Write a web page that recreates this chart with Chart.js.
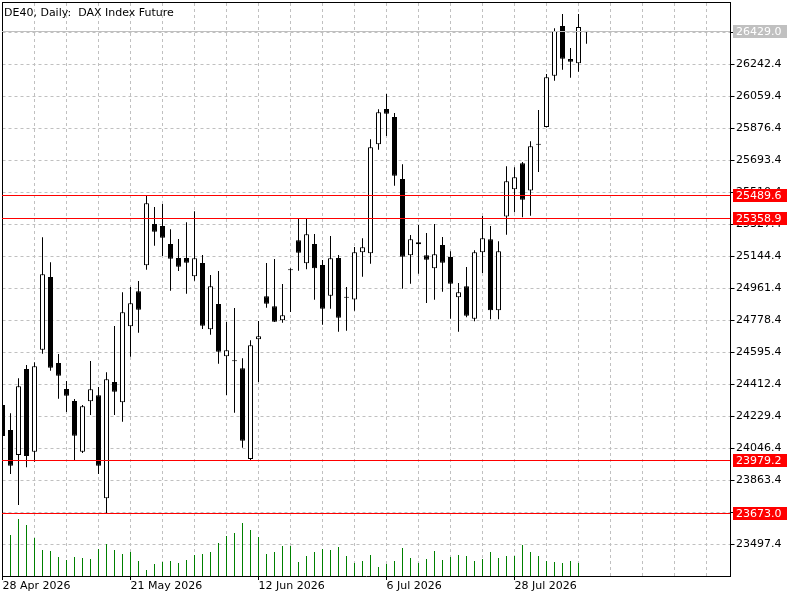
<!DOCTYPE html>
<html>
<head>
<meta charset="utf-8">
<script src="https://cdn.jsdelivr.net/npm/chart.js@4.4.1/dist/chart.umd.min.js"></script>
<style>
  html, body { margin: 0; padding: 0; background: #fff; }
  canvas { display: block; }
</style>
</head>
<body>
<canvas id="dax" width="800" height="600"></canvas>
<script>
const dates = [
    '28 Apr 2026', '29 Apr 2026', '30 Apr 2026', '4 May 2026', '5 May 2026', '6 May 2026', '7 May 2026', '8 May 2026',
    '11 May 2026', '12 May 2026', '13 May 2026', '14 May 2026', '15 May 2026', '18 May 2026', '19 May 2026', '20 May 2026',
    '21 May 2026', '22 May 2026', '25 May 2026', '26 May 2026', '27 May 2026', '28 May 2026', '29 May 2026', '1 Jun 2026',
    '2 Jun 2026', '3 Jun 2026', '4 Jun 2026', '5 Jun 2026', '8 Jun 2026', '9 Jun 2026', '10 Jun 2026', '11 Jun 2026',
    '12 Jun 2026', '15 Jun 2026', '16 Jun 2026', '17 Jun 2026', '18 Jun 2026', '19 Jun 2026', '22 Jun 2026', '23 Jun 2026',
    '24 Jun 2026', '25 Jun 2026', '26 Jun 2026', '29 Jun 2026', '30 Jun 2026', '1 Jul 2026', '2 Jul 2026', '3 Jul 2026',
    '6 Jul 2026', '7 Jul 2026', '8 Jul 2026', '9 Jul 2026', '10 Jul 2026', '13 Jul 2026', '14 Jul 2026', '15 Jul 2026',
    '16 Jul 2026', '17 Jul 2026', '20 Jul 2026', '21 Jul 2026', '22 Jul 2026', '23 Jul 2026', '24 Jul 2026', '27 Jul 2026',
    '28 Jul 2026', '29 Jul 2026', '30 Jul 2026', '31 Jul 2026', '3 Aug 2026', '4 Aug 2026', '5 Aug 2026', '6 Aug 2026',
    '7 Aug 2026', '10 Aug 2026'
];
const emptySlots = 18; // free space right of the last bar

const opens = [
    24294.0, 24151.0, 24008.1, 24499.9, 24026.9, 24610.3, 25026.0, 24534.2, 24385.5, 24316.9,
    24026.9, 24315.2, 24349.5, 23760.5, 24425.5, 24309.5, 24744.1, 24944.2, 25092.9, 25329.1,
    25317.7, 25214.7, 25134.7, 25134.7, 25030.0, 25106.1, 24726.9, 24871.6, 24572.5, 24544.9,
    24503.9, 23985.0, 24669.7, 24915.6, 24858.5, 24778.4, 25065.3, 25235.9, 25104.4, 25214.7,
    25094.6, 24919.1, 25134.7, 24908.6, 24897.3, 25167.3, 25161.5, 25784.9, 25986.8, 25941.0,
    25586.4, 25150.1, 25213.0, 25150.1, 25075.8, 25209.0, 25140.4, 24909.9, 24972.8, 24787.5,
    25167.3, 25241.6, 24835.6, 25372.0, 25527.5, 25676.8, 25520.7, 25783.0, 25883.8, 26177.2,
    26461.4, 26272.7, 26248.1, 26431.0
];
const highs = [
    24305.4, 24246.6, 24446.7, 24522.8, 24538.2, 25253.0, 25110.1, 24585.7, 24431.3, 24328.3,
    24294.0, 24545.6, 24396.9, 24481.0, 24745.8, 24938.5, 24968.8, 25003.1, 25490.0, 25426.3,
    25443.5, 25298.8, 25243.3, 25338.8, 25401.7, 25151.8, 25037.4, 25060.3, 24768.7, 24848.7,
    24561.1, 24664.0, 24774.4, 25106.1, 25128.9, 24986.0, 25075.8, 25358.9, 25358.9, 25271.9,
    25123.2, 25260.5, 25151.8, 24968.8, 25197.6, 25247.9, 25813.5, 25985.0, 26072.5, 25963.9,
    25670.5, 25266.2, 25323.4, 25277.6, 25329.1, 25254.8, 25173.0, 24991.7, 25083.2, 25178.7,
    25374.9, 25317.7, 25230.2, 25659.1, 25653.4, 25683.7, 25802.6, 25981.0, 26186.9, 26448.3,
    26530.0, 26335.6, 26530.0, 26432.0
];
const lows = [
    24093.9, 23899.4, 23722.1, 23937.7, 23969.8, 24587.4, 24490.2, 24330.0, 24254.0, 23979.5,
    24020.0, 24236.8, 23899.4, 23673.0, 24236.8, 24198.5, 24570.2, 24707.5, 25067.8, 25205.0,
    25146.1, 24947.7, 25060.3, 24930.5, 25004.9, 24728.6, 24696.0, 24530.2, 24351.2, 24250.0,
    24049.8, 23979.2, 24425.5, 24850.4, 24768.0, 24764.7, 24825.9, 25062.0, 25070.0, 24896.2,
    24753.2, 24844.7, 24713.2, 24718.9, 24833.3, 25027.7, 25102.1, 25754.0, 25832.4, 25548.1,
    24959.1, 24987.7, 25044.9, 24877.3, 24896.2, 24941.9, 24787.5, 24713.2, 24795.5, 24772.7,
    25048.9, 24784.1, 24784.1, 25267.9, 25396.0, 25367.4, 25376.0, 25626.5, 25881.0, 26148.6,
    26211.5, 26165.8, 26200.1, 26360.2
];
const closes = [
    24116.7, 23946.9, 24401.0, 24002.4, 24515.3, 25041.5, 24507.3, 24461.6, 24347.2, 24118.4,
    24286.6, 24383.8, 23946.9, 24441.0, 24370.1, 24824.1, 24875.6, 24839.0, 25447.5, 25285.1,
    25250.8, 25130.7, 25084.9, 25107.8, 25133.0, 24747.5, 24972.8, 24598.8, 24606.8, 24543.9,
    24089.9, 24635.4, 24686.9, 24873.3, 24770.4, 24807.0, 25064.3, 25165.0, 25270.2, 25075.8,
    24844.7, 25133.0, 24793.3, 24907.6, 25167.3, 25195.9, 25767.7, 25967.9, 25959.9, 25605.3,
    25142.1, 25241.6, 25224.4, 25124.9, 25155.8, 25107.8, 24987.7, 24938.5, 24804.7, 25167.3,
    25247.3, 24835.6, 25173.0, 25573.3, 25596.2, 25468.1, 25773.4, 25782.0, 26168.0, 26432.8,
    26274.4, 26257.3, 26455.7, 26429.0
];
const volumes = [
    28000, 41000, 57000, 51000, 38000, 26000, 25000, 19000, 16000, 19000,
    18000, 17000, 27000, 32000, 26000, 22000, 24000, 15000, 6000, 12000,
    14000, 15000, 13000, 16000, 21000, 22000, 24000, 33000, 40000, 43000,
    53000, 46000, 39000, 22000, 24000, 30000, 30000, 14000, 20000, 24000,
    27000, 26000, 29000, 20000, 13000, 15000, 21000, 9000, 12000, 15000,
    28000, 18000, 13000, 17000, 25000, 16000, 19000, 21000, 20000, 15000,
    17000, 24000, 18000, 20000, 20000, 31000, 24000, 20000, 15000, 14000,
    13000, 15000, 13000, 0
];

const yTicks = [
    23497.4, 23680.4, 23863.4, 24046.4, 24229.4, 24412.4, 24595.4, 24778.4, 24961.4,
    25144.4, 25327.4, 25510.4, 25693.4, 25876.4, 26059.4, 26242.4, 26425.4
];
const xTickIdx = [0, 16, 32, 48, 64];
const redLevels = [25489.6, 25358.9, 23979.2, 23673.0];
const lastPrice = 26429.0;
const title = 'DE40, Daily:  DAX Index Future';

const FONT = 'DejaVu Sans';
const labels = dates.concat(Array(emptySlots).fill(''));

// keep the plot area fixed: no extra room for overhanging tick labels
const noOverhang = s => {
    s.paddingTop = 0;
    s.paddingBottom = 0;
    s.paddingLeft = 0;
    s.paddingRight = 0;
};

const overlay = {
    id: 'overlay',
    afterDraw(chart) {
        const ctx = chart.ctx;
        const area = chart.chartArea;
        const y = chart.scales.y;
        const left = Math.floor(area.left);
        const right = Math.floor(area.right);
        ctx.save();
        // left and top frame
        ctx.fillStyle = '#000';
        ctx.fillRect(left, Math.floor(area.top) - 1, right - left + 1, 1);
        ctx.fillRect(left, Math.floor(area.top) - 1, 1, Math.ceil(area.bottom - area.top) + 1);

        const level = (value, color) => {
            const py = Math.floor(y.getPixelForValue(value));
            ctx.fillStyle = color;
            ctx.fillRect(left, py, right - left, 1);
            ctx.fillRect(733, py - 6, 54, 13);
            ctx.fillStyle = '#fff';
            ctx.font = '11px "' + FONT + '"';
            ctx.textBaseline = 'middle';
            ctx.textAlign = 'left';
            ctx.fillText(value.toFixed(1), 736, py + 1);
        };
        level(lastPrice, '#c0c0c0');
        redLevels.forEach(v => level(v, '#ff0000'));

        ctx.fillStyle = '#000';
        ctx.font = '11px "' + FONT + '"';
        ctx.textBaseline = 'alphabetic';
        ctx.textAlign = 'left';
        ctx.fillText(title, 4, 16);
        ctx.restore();
    }
};

const ctx = document.getElementById('dax').getContext('2d');

new Chart(ctx, {
    type: 'bar',
    data: {
        labels: labels,
        datasets: [
            {
                label: 'Body',
                data: opens.map((o, i) => [o, closes[i]]),
                backgroundColor: opens.map((o, i) => closes[i] >= o ? '#ffffff' : '#000000'),
                borderColor: '#000',
                borderWidth: 1,
                borderSkipped: false,
                barThickness: 5,
                minBarLength: 1,
                inflateAmount: 0,
                grouped: false,
                yAxisID: 'y',
                order: 0
            },
            {
                label: 'Wick',
                data: lows.map((l, i) => [l, highs[i]]),
                backgroundColor: '#000',
                barThickness: 1,
                inflateAmount: 0,
                grouped: false,
                yAxisID: 'y',
                order: 1
            },
            {
                label: 'Volume',
                data: volumes,
                backgroundColor: 'rgb(0, 128, 0)',
                barThickness: 1,
                inflateAmount: 0,
                grouped: false,
                yAxisID: 'v',
                order: 2
            }
        ]
    },
    options: {
        responsive: false,
        animation: false,
        devicePixelRatio: 1,
        layout: { padding: { left: 2.5, top: 3, right: 0, bottom: 0 } },
        plugins: {
            legend: { display: false },
            tooltip: { enabled: false }
        },
        scales: {
            x: {
                type: 'category',
                offset: false,
                afterFit: s => { s.height = 24; noOverhang(s); },
                grid: {
                    offset: false,
                    color: c => (c.index > 0 && c.index % 4 === 0) ? '#c0c0c0' : 'rgba(0,0,0,0)',
                    tickColor: c => xTickIdx.includes(c.index) ? '#000' : 'rgba(0,0,0,0)',
                    tickLength: 4
                },
                border: { display: true, color: '#000', width: 1, dash: [3, 3] },
                ticks: {
                    autoSkip: false,
                    maxRotation: 0,
                    minRotation: 0,
                    align: 'start',
                    padding: 0,
                    color: '#000',
                    font: { family: FONT, size: 11 },
                    callback: (val, idx) => xTickIdx.includes(idx) ? dates[idx] : ''
                }
            },
            y: {
                position: 'right',
                min: 23316,
                max: 26593,
                afterFit: s => { s.width = 69.5; noOverhang(s); },
                afterBuildTicks: s => { s.ticks = yTicks.map(v => ({ value: v })); },
                grid: { color: '#c0c0c0', tickColor: '#000', tickLength: 4 },
                border: { display: true, color: '#000', width: 1, dash: [3, 3] },
                ticks: {
                    padding: 1.5,
                    color: '#000',
                    font: { family: FONT, size: 11 },
                    callback: v => v.toFixed(1)
                }
            },
            v: {
                display: false,
                min: 0,
                max: 573000
            }
        }
    },
    plugins: [overlay]
});
</script>
</body>
</html>
